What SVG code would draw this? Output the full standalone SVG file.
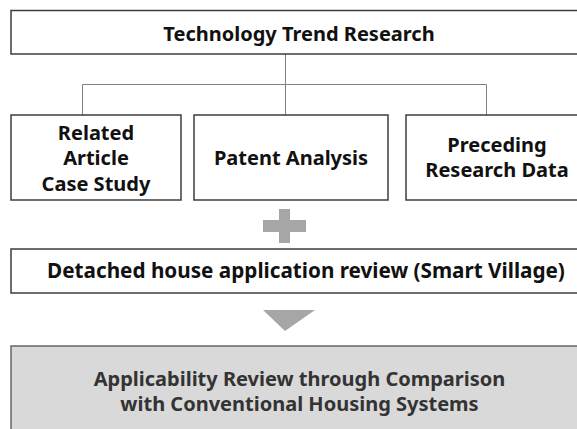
<svg xmlns="http://www.w3.org/2000/svg" width="577" height="429" viewBox="0 0 577 429">
<style>
.box{fill:#fff;stroke:#3c3c3c;stroke-width:1.5}
.gbox{fill:#d9d9d9;stroke:#666;stroke-width:1.5}
.t{font-family:"Noto Sans","Open Sans",sans-serif;font-weight:bold;font-size:20px;fill:#111;text-anchor:middle}
.tg{font-family:"Noto Sans","Open Sans",sans-serif;font-weight:bold;font-size:20px;fill:#333;text-anchor:middle}
.c{fill:none;stroke:#808080;stroke-width:1}
.sym{fill:#a6a6a6}
</style>
<rect width="577" height="429" fill="#fff"/>
<g id="connectors">
<path class="c" d="M285.5 54V115M82.5 115V84.5H486.5V115"/>
</g>
<g id="top">
<rect class="box" x="11" y="10.5" width="580" height="43.5"/>
<text class="t" x="299" y="40.5">Technology Trend Research</text>
</g>
<g id="related">
<rect class="box" x="11" y="115" width="170" height="85"/>
<text class="t" x="96" y="140">Related</text>
<text class="t" x="96" y="165">Article</text>
<text class="t" x="96" y="191">Case Study</text>
</g>
<g id="patent">
<rect class="box" x="194" y="115" width="194" height="85"/>
<text class="t" x="291" y="165">Patent Analysis</text>
</g>
<g id="preceding">
<rect class="box" x="406" y="115" width="190" height="85"/>
<text class="t" x="497" y="152">Preceding</text>
<text class="t" x="497" y="177">Research Data</text>
</g>
<g id="plus">
<rect class="sym" x="279" y="209" width="11" height="34"/>
<rect class="sym" x="263" y="220" width="43" height="12"/>
</g>
<g id="detached">
<rect class="box" x="11" y="249" width="580" height="44"/>
<text class="t" x="306" y="278" style="font-size:20.7px">Detached house application review (Smart Village)</text>
</g>
<g id="arrow">
<polygon class="sym" points="263,310 315,310 285,331"/>
</g>
<g id="result">
<rect class="gbox" x="11" y="346" width="580" height="100"/>
<text class="tg" x="299.5" y="386">Applicability Review through Comparison</text>
<text class="tg" x="299.5" y="411">with Conventional Housing Systems</text>
</g>
</svg>
